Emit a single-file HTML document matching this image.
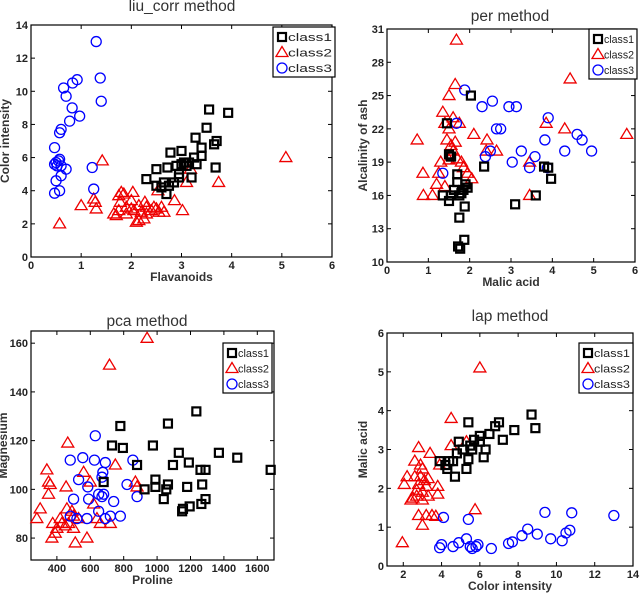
<!DOCTYPE html>
<html><head><meta charset="utf-8"><style>
body{margin:0;background:#fff;width:640px;height:593px;overflow:hidden}
svg{display:block}
text{font-family:"Liberation Sans",Arial,sans-serif}
</style></head><body>
<svg id="fig" width="640" height="593" xmlns="http://www.w3.org/2000/svg"></svg>
<script>
// ---- data: plot 1 (liu_corr) Flavanoids vs Color intensity
const p1Class1 = [[2.3,4.7],[2.5,5.3],[2.5,4.3],[2.65,4.5],[2.7,3.8],[2.75,4.3],[2.72,5.4],[2.78,6.3],[3.0,6.4],[2.95,5],[2.95,4.8],[3.0,5.6],[3.05,5.7],[3.15,5.7],[3.2,4.8],[3.25,6.0],[3.28,7.2],[3.3,5.6],[3.4,6.6],[3.4,6.1],[3.5,7.8],[3.55,8.9],[3.93,8.7],[3.65,6.8],[3.7,7],[3.68,5.4],[2.85,4.5],[2.6,4.2],[3.1,5.5],[2.9,5.5]];
const p1Class2 = [[0.57,2],[1.0,3.1],[1.25,3.5],[1.28,3.3],[1.3,2.9],[1.42,5.8],[5.08,6],[3.74,4.5],[3.18,5.3],[3.1,4.5],[2.53,4],[2.86,3.4],[3.02,2.8],[1.8,3.9],[1.75,3.7],[1.85,3.8],[2.03,3.9],[1.7,2.5],[1.75,2.8],[1.78,3.3],[1.9,3],[2.0,2.9],[2.1,2.1],[2.15,2.2],[2.25,2.3],[2.05,2.8],[2.2,2.7],[2.27,3.3],[2.3,3.0],[2.4,2.8],[2.5,2.9],[2.55,2.7],[2.6,3.0],[2.65,2.7],[2.0,3.4],[1.9,2.6],[2.3,2.6],[2.15,3.1],[1.65,2.6],[2.45,3.0]];
const p1Class3 = [[1.3,13],[1.38,10.8],[1.4,9.4],[0.92,10.7],[0.83,10.5],[0.65,10.2],[0.7,9.7],[0.82,9],[0.97,8.5],[0.77,8.2],[0.6,7.7],[0.57,7.5],[0.47,6.6],[0.57,5.9],[0.5,5.7],[0.47,5.6],[0.52,5.5],[0.7,5.3],[0.6,4.9],[0.5,4.6],[0.57,4],[0.47,3.85],[1.22,5.4],[1.25,4.1],[0.55,5.8],[0.6,5.5]];
const p1XTicks = [0,1,2,3,4,5,6];
const p1YTicks = [0,2,4,6,8,10,12,14];
// ---- plot 2 (per) Malic acid vs Alcalinity of ash
const p2Class1 = [[2.03,25],[1.45,22.5],[1.5,19.7],[1.55,19.5],[2.35,18.6],[3.8,18.6],[3.9,18.5],[3.97,17.5],[1.7,17.9],[1.7,17.2],[1.9,17],[1.95,16.7],[1.62,16.5],[1.75,16],[1.8,16.2],[1.35,16],[1.55,16],[1.5,15.5],[1.85,16.5],[1.88,15],[3.1,15.2],[3.6,16],[1.75,14],[1.87,12],[1.72,11.4],[1.77,11.2]];
const p2Class2 = [[1.68,30],[1.65,26],[1.5,25],[1.35,23.5],[1.4,22.5],[1.6,23],[1.75,22.5],[1.5,22],[0.73,21],[1.45,21],[1.55,20.5],[1.6,20],[2.1,21.5],[2.42,21],[2.4,20],[2.65,20],[1.3,19],[1.5,19.2],[1.7,19.3],[1.8,19],[1.85,18.5],[0.87,18],[1.25,18],[1.95,18],[2.05,17.5],[1.2,17],[1.4,16.8],[0.88,16],[1.1,16],[3.45,19],[3.45,16],[3.85,22.5],[4.3,22],[4.43,26.5],[5.8,21.5],[1.65,20.8]];
const p2Class3 = [[1.88,25.5],[2.3,24],[2.55,24.5],[2.95,24],[3.13,24],[3.9,23],[1.68,22.5],[2.65,22],[2.75,22],[3.82,21],[4.6,21.5],[4.72,21],[4.3,20],[4.95,20],[2.5,20],[3.25,20],[3.58,19.5],[2.38,19.5],[3.03,19],[3.45,18.5],[3.88,18.5],[1.35,18]];
const p2XTicks = [0,1,2,3,4,5,6];
const p2YTicks = [10,13,16,19,22,25,28,31];
// ---- plot 3 (pca) Proline vs Magnesium
const p3Class1 = [[780,126],[1065,127],[1235,132],[730,118],[795,117],[975,118],[1130,115],[1370,115],[1480,113],[880,110],[1095,110],[1190,111],[1260,108],[1290,108],[1680,108],[680,103],[990,104],[1065,102],[1270,102],[925,100],[990,101],[1055,100],[1180,101],[1040,96],[1290,96],[1155,92],[1195,93],[1265,94],[1150,91]];
const p3Class2 = [[940,162],[715,151],[465,119],[750,110],[560,107],[340,108],[350,103],[360,102],[455,101],[600,103],[870,103],[880,101],[350,98],[620,94],[300,92],[460,92],[490,91],[280,88],[375,86],[400,84],[430,86],[420,88],[450,85],[500,89],[530,88],[640,88],[660,86],[720,86],[500,84],[370,80],[580,80],[510,78],[390,82],[470,86]];
const p3Class3 = [[630,122],[480,112],[555,113],[625,112],[690,111],[855,112],[675,107],[670,105],[530,104],[820,102],[585,101],[500,96],[590,96],[740,95],[650,98],[680,98],[880,97],[650,91],[480,89],[520,88],[580,88],[690,88],[720,89],[780,89],[670,97]];
const p3XTicks = [400,600,800,1000,1200,1400,1600];
const p3YTicks = [80,100,120,140,160];
// ---- plot 4 (lap) Color intensity vs Malic acid
const p4Class1 = [[3.9,2.7],[4.2,2.6],[4.3,2.5],[4.4,2.7],[4.6,2.7],[4.7,2.3],[4.8,2.9],[4.9,3.2],[5.1,3.0],[5.3,2.5],[5.4,2.75],[5.4,3.7],[5.6,3.0],[5.7,3.25],[6.0,3.2],[6.0,3.35],[6.2,2.8],[6.3,3.0],[6.5,3.4],[6.8,3.6],[7.0,3.7],[7.2,3.25],[7.8,3.5],[8.7,3.9],[8.9,3.55],[5.5,3.1]];
const p4Class2 = [[6.0,5.1],[4.5,3.8],[4.5,3.1],[5.3,3.2],[3.9,2.6],[2.8,3.05],[3.4,2.9],[2.6,2.7],[2.9,2.6],[3.0,2.5],[2.2,2.3],[2.6,2.3],[2.9,2.3],[3.3,2.25],[3.1,2.2],[2.05,2.1],[2.8,2.1],[3.2,2.05],[3.8,2.05],[2.7,1.95],[3.0,1.9],[2.5,1.75],[2.7,1.8],[3.3,1.8],[3.8,1.85],[3.0,1.7],[2.8,1.3],[3.2,1.3],[3.5,1.3],[3.7,1.28],[3.0,1.05],[5.75,1.45],[1.95,0.6],[2.4,1.7]];
const p4Class3 = [[4.1,1.25],[5.4,1.2],[9.4,1.38],[10.8,1.37],[13,1.3],[3.9,0.47],[4.0,0.55],[4.6,0.5],[4.9,0.6],[5.3,0.7],[5.5,0.5],[5.6,0.45],[5.8,0.5],[5.9,0.55],[6.6,0.45],[7.5,0.58],[7.7,0.62],[8.2,0.78],[8.5,0.95],[9.0,0.82],[9.7,0.7],[10.3,0.65],[10.5,0.85],[10.7,0.92]];
const p4XTicks = [2,4,6,8,10,12,14];
const p4YTicks = [0,1,2,3,4,5,6];

const NS = "http://www.w3.org/2000/svg";
const svg = document.getElementById('fig');
function mk(tag, attrs, parent){const e=document.createElementNS(NS,tag);for(const k in attrs)e.setAttribute(k,attrs[k]);(parent||svg).appendChild(e);return e;}

function drawPlot(cfg, c1, c2, c3, xt, yt){
  const g = mk('g',{});
  
  
  const sx = v => cfg.L + (v - cfg.x0)/(cfg.x1 - cfg.x0)*(cfg.R - cfg.L);
  const sy = v => cfg.B - (v - cfg.y0)/(cfg.y1 - cfg.y0)*(cfg.B - cfg.T);
  const frame = mk('rect',{x:cfg.L,y:cfg.T,width:cfg.R-cfg.L,height:cfg.B-cfg.T,fill:'#fff',stroke:'#000','stroke-width':1.2},g);
  
  
  xt.forEach(v=>{
    const x=sx(v);
    mk('line',{x1:x,y1:cfg.B,x2:x,y2:cfg.B-4,stroke:'#000'},g);
    mk('line',{x1:x,y1:cfg.T,x2:x,y2:cfg.T+4,stroke:'#000'},g);
    const t=mk('text',{x:x,y:cfg.B+12,'font-size':11,'font-weight':'bold','text-anchor':'middle',fill:'#222'},g);
    t.textContent=v;
    
    
  });
  yt.forEach(v=>{
    const y=sy(v);
    mk('line',{x1:cfg.L,y1:y,x2:cfg.L+4,y2:y,stroke:'#000'},g);
    mk('line',{x1:cfg.R,y1:y,x2:cfg.R-4,y2:y,stroke:'#000'},g);
    const t=mk('text',{x:cfg.L-3,y:y+4,'font-size':11,'font-weight':'bold','text-anchor':'end',fill:'#222'},g);
    t.textContent=v;
    
    
  });
  const drawSq=(x,y,par)=>mk('rect',{x:x-4,y:y-4,width:8,height:8,fill:'none',stroke:'#000','stroke-width':2.2},par);
  const drawTri=(x,y,par)=>mk('polygon',{points:`${x},${y-6} ${x-6},${y+4} ${x+6},${y+4}`,fill:'none',stroke:'#e00','stroke-width':1.3},par);
  const drawCi=(x,y,par)=>mk('circle',{cx:x,cy:y,r:5,fill:'none',stroke:'#00f','stroke-width':1.3},par);
  c2.forEach(p=>{const m=drawTri(sx(p[0]),sy(p[1]),g);
    
    });
  c3.forEach(p=>{const m=drawCi(sx(p[0]),sy(p[1]),g);
    
    });
  c1.forEach(p=>{const m=drawSq(sx(p[0]),sy(p[1]),g);
    
    });
  const ti=mk('text',{x:cfg.tx,y:cfg.ty,'font-size':15.5,'text-anchor':'middle',fill:'#333'},g);
  ti.textContent=cfg.title;
  
  
  const xl=mk('text',{x:(cfg.L+cfg.R)/2,y:cfg.B+24,'font-size':12,'font-weight':'bold','text-anchor':'middle',fill:'#333'},g);
  xl.textContent=cfg.xlabel;
  
  
  const yx=cfg.L-cfg.ylOff, yy=(cfg.T+cfg.B)/2;
  const yl=mk('text',{x:yx,y:yy,'font-size':12,'font-weight':'bold','text-anchor':'middle',fill:'#333',transform:`rotate(-90 ${yx} ${yy})`},g);
  yl.textContent=cfg.ylabel;
  
  
  const lg=mk('g',{},g);
  
  
  const lx=cfg.lg[0], ly=cfg.lg[1], lw=cfg.lg[2];
  mk('rect',{x:lx,y:ly,width:lw,height:50,fill:'#fff',stroke:'#000','stroke-width':1.2},lg);
  ['class1','class2','class3'].forEach((nm,i)=>{
    const cy=ly+10+i*15.5;
    if(i===0)drawSq(lx+9,cy,lg); else if(i===1)drawTri(lx+9,cy,lg); else drawCi(lx+9,cy,lg);
    const t=mk('text',{x:lx+15,y:cy+4,'font-size':11,fill:'#222',textLength:lw-18,lengthAdjust:'spacingAndGlyphs'},lg);
    t.textContent=nm;
    
    
  });
}

drawPlot({name:'liu-corr-plot',L:31,R:332,T:25,B:257,x0:0,x1:6,y0:0,y1:14,title:'liu_corr method',tx:182,ty:11,xlabel:'Flavanoids',ylabel:'Color intensity',ylOff:22,lg:[273,27,62]},p1Class1,p1Class2,p1Class3,p1XTicks,p1YTicks);
drawPlot({name:'per-plot',L:387,R:635,T:29,B:262,x0:0,x1:6,y0:10,y1:31,title:'per method',tx:510,ty:21,xlabel:'Malic acid',ylabel:'Alcalinity of ash',ylOff:20,lg:[589,29,48]},p2Class1,p2Class2,p2Class3,p2XTicks,p2YTicks);
drawPlot({name:'pca-plot',L:31,R:274,T:331,B:560,x0:245,x1:1700,y0:71,y1:165,title:'pca method',tx:147,ty:326,xlabel:'Proline',ylabel:'Magnesium',ylOff:24,lg:[223,343,49]},p3Class1,p3Class2,p3Class3,p3XTicks,p3YTicks);
drawPlot({name:'lap-plot',L:387,R:633,T:333,B:566,x0:1.15,x1:14,y0:0,y1:6,title:'lap method',tx:510,ty:321,xlabel:'Color intensity',ylabel:'Malic acid',ylOff:20,lg:[579,343,54]},p4Class1,p4Class2,p4Class3,p4XTicks,p4YTicks);
</script>
</body></html>
